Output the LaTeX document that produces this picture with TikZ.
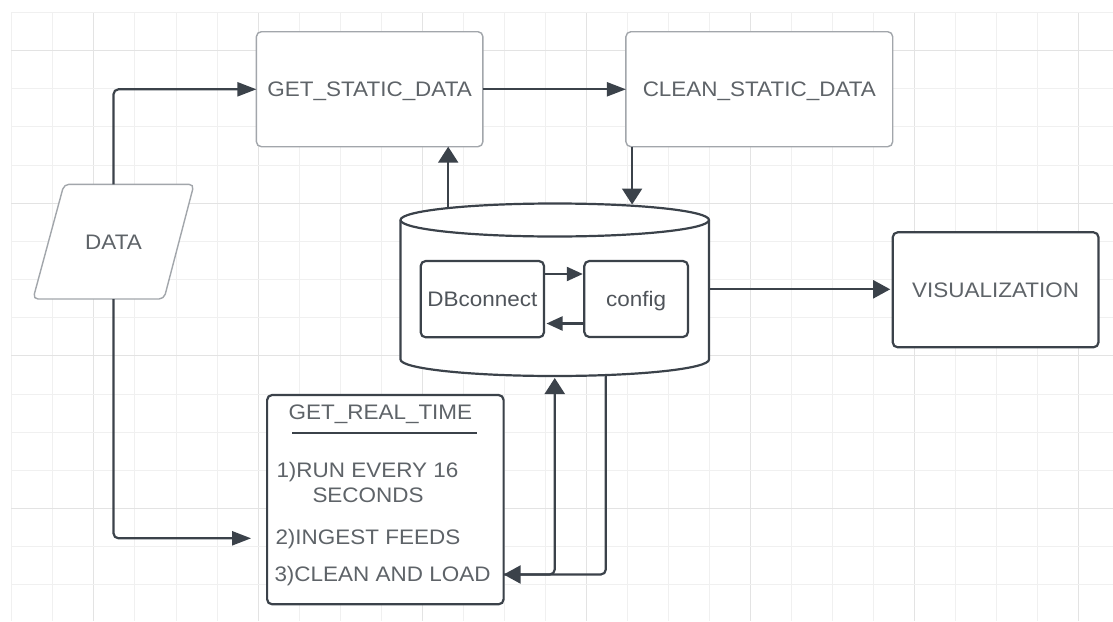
\documentclass[tikz,border=0pt]{standalone}
\usepackage{fontspec}
\setmainfont[FakeStretch=1.07]{Liberation Sans}
\usetikzlibrary{arrows.meta,calc}
\definecolor{ink}{HTML}{3B424A}
\definecolor{lightedge}{HTML}{A2A6AB}
\definecolor{labelgray}{HTML}{5E6368}
\definecolor{innergray}{HTML}{4F545A}
\definecolor{gridlight}{HTML}{F0F0F0}
\definecolor{griddark}{HTML}{E3E3E3}

\begin{document}
\begin{tikzpicture}[x=1pt,y=-1pt,
  lbl/.style={font=\fontsize{21}{25}\selectfont, text=labelgray, text height=15pt, text depth=0pt, inner sep=0pt, outer sep=0pt},
  softbox/.style={lbl, draw=lightedge, line width=1.4pt, rounded corners=5pt, fill=white},
  hardbox/.style={lbl, draw=ink, line width=2.2pt, rounded corners=5pt, fill=white},
  wire/.style={draw=ink, line width=2.2pt, rounded corners=5pt},
  tipH/.style={-{Triangle[length=19pt,width=14pt]}},
  tipV/.style={-{Triangle[length=16pt,width=20pt]}},
  tipS/.style={-{Triangle[length=16pt,width=14pt]}},
  tipM/.style={-{Triangle[length=17pt,width=18pt]}},
]
\useasboundingbox (0,0) rectangle (1113,621);
\fill[white] (0,0) rectangle (1113,621);

% background grid
\foreach \k in {0,...,26}{
  \pgfmathtruncatemacro\m{mod(\k,4)}
  \ifnum\m=2 \def\gc{griddark}\else\def\gc{gridlight}\fi
  \draw[\gc, line width=1pt] ({11.9+41.03*\k},12.5) -- ({11.9+41.03*\k},621);
}
\foreach \k in {0,...,15}{
  \pgfmathtruncatemacro\m{mod(\k,4)}
  \ifnum\m=1 \def\gc{griddark}\else\def\gc{gridlight}\fi
  \draw[\gc, line width=1pt] (11,{12.5+38.16*\k}) -- (1113,{12.5+38.16*\k});
}

% static pipeline
\node[softbox, minimum width=226.5pt, minimum height=115pt] (getstatic) at (369.65,89.2) {GET\_STATIC\_DATA};
\node[softbox, minimum width=266.8pt, minimum height=115pt] (clean) at (759.3,89.2) {CLEAN\_STATIC\_DATA};

% data source (parallelogram)
\draw[draw=lightedge, line width=1.4pt, rounded corners=5pt, fill=white]
  (64,184.3) -- (194,184.3) -- (164,299) -- (33,299) -- cycle;
\node[lbl, minimum width=161pt, minimum height=114.7pt] (data) at (113.5,241.65) {DATA};

% database cylinder
\node[inner sep=0pt, outer sep=0pt, minimum width=308.5pt, minimum height=172.5pt] (db) at (554.75,289.75) {};
\draw[ink, line width=2.2pt, fill=white]
  (400.5,220) -- (400.5,359.5)
  arc[start angle=180, end angle=360, x radius=154.25pt, y radius=16.5pt]
  -- (709,220)
  arc[start angle=0, end angle=180, x radius=154.25pt, y radius=16.5pt] -- cycle;
\draw[ink, line width=2.2pt]
  (400.5,220) arc[start angle=180, end angle=360, x radius=154.25pt, y radius=16.5pt];

\node[hardbox, text=innergray, minimum width=123.3pt, minimum height=76.3pt] (dbc) at (482.35,299.15) {DBconnect};
\node[hardbox, text=innergray, minimum width=103.7pt, minimum height=76pt] (cfg) at (636.15,299) {config};

% output
\node[hardbox, minimum width=205.8pt, minimum height=115pt] (visual) at (995.6,289.8) {VISUALIZATION};

% real-time job
\node[hardbox, minimum width=236.5pt, minimum height=209.3pt] (getreal) at (385.35,499.65) {};
\node[lbl] (grtitle) at (380.4,411.7) {GET\_REAL\_TIME};
\draw[ink, line width=2.2pt] (292,432.7) -- (476.8,432.7);
\node[lbl, anchor=west] (step1) at (276.5,470) {1)RUN EVERY 16};
\node[lbl, anchor=west] (step1b) at (312.5,495) {SECONDS};
\node[lbl, anchor=west] (step2) at (275.5,536.7) {2)INGEST FEEDS};
\node[lbl, anchor=west] (step3) at (274.5,574) {3)CLEAN AND LOAD};

% connectors
\coordinate (rowTop) at (0,89.3);
\coordinate (colA) at (448.2,0);
\coordinate (colB) at (632.1,0);
\coordinate (rowIn1) at (0,274);
\coordinate (rowIn2) at (0,323.5);
\coordinate (rowVis) at (0,289.3);
\coordinate (rowIn) at (0,538.3);
\coordinate (rowLoad) at (0,574.5);
\coordinate (colDown) at (605.8,0);

\draw[wire, tipH] (data.north) |- (getstatic.west |- rowTop);
\draw[wire, tipH] (getstatic.east |- rowTop) -- (clean.west |- rowTop);
\draw[wire, tipV] ($(db.north -| colA)+(0,4)$) -- (getstatic.south -| colA);
\draw[wire, tipV] (clean.south -| colB) -- ($(db.north -| colB)+(0,1)$);
\draw[wire, tipS] (dbc.east |- rowIn1) -- ($(cfg.west |- rowIn1)+(-1.5,0)$);
\draw[wire, tipS] (cfg.west |- rowIn2) -- ($(dbc.east |- rowIn2)+(2.5,0)$);
\draw[wire, tipM] (db.east |- rowVis) -- ($(visual.west |- rowVis)+(-2.5,0)$);
\draw[wire, tipH] (data.south) |- ($(getreal.west |- rowIn)+(-16,0)$);
\draw[wire, tipV] (getreal.east |- rowLoad) -| ($(db.south)+(0,2)$);
\draw[wire, tipM] ($(db.south -| colDown)+(0,-1)$) |- (getreal.east |- rowLoad);
\end{tikzpicture}
\end{document}
